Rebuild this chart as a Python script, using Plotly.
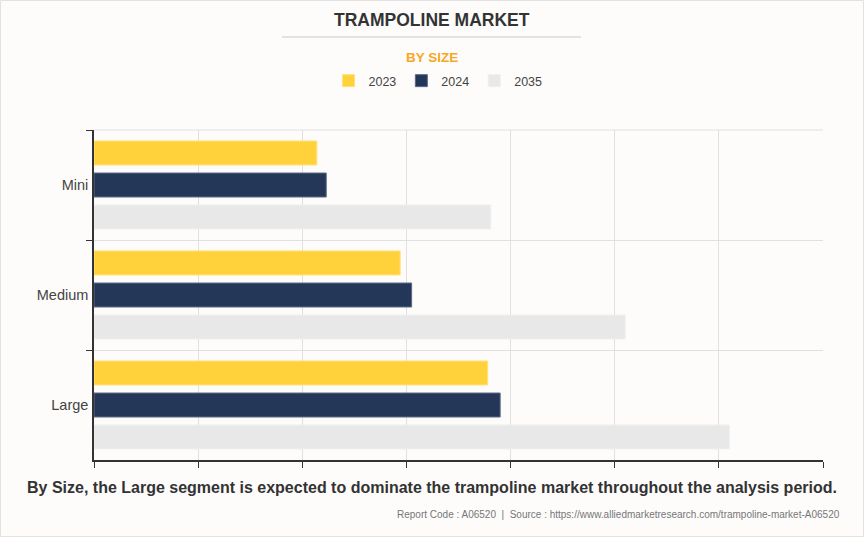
import plotly.graph_objects as go

categories = ["Mini", "Medium", "Large"]
years = ["2023", "2024", "2035"]
values_2023 = [2.14, 2.94, 3.78]
values_2024 = [2.23, 3.05, 3.90]
values_2035 = [3.81, 5.10, 6.10]
colors = ["#FFD23C", "#243758", "#E8E8E8"]
line_colors = ["#FFE27A", "#5C6A85", "#EFEFEF"]

W, H = 864, 537
ml, mr, mt, mb = 94, 41, 130, 77
pw, ph = W - ml - mr, H - mt - mb

def px(x):
    return (x - ml) / pw

def py(y):
    return 1 - (y - mt) / ph

fig = go.Figure()
for name, vals, c, lc in zip(years, [values_2023, values_2024, values_2035], colors, line_colors):
    fig.add_trace(go.Bar(
        y=categories, x=vals, name=name, orientation="h",
        marker=dict(color=c, line=dict(color=lc, width=1)),
        hoverinfo="x+name",
    ))

fig.update_layout(
    width=W, height=H,
    margin=dict(l=ml, r=mr, t=mt, b=mb, autoexpand=False),
    paper_bgcolor="#FDFCFB",
    plot_bgcolor="#FDFCFB",
    barmode="group",
    bargap=0.127,
    bargroupgap=0.25,
    font=dict(family="Liberation Sans, Arial, sans-serif", color="#444444"),
    showlegend=True,
    legend=dict(
        orientation="h", x=px(438), xanchor="center",
        y=py(81), yanchor="middle",
        font=dict(size=12.5, color="#444444"),
        bgcolor="rgba(0,0,0,0)",
        itemwidth=30,
        traceorder="normal",
    ),
    xaxis=dict(
        range=[0, 7], dtick=1, tick0=0,
        showticklabels=False,
        showgrid=True, gridcolor="#E0E0E0", gridwidth=1,
        zeroline=False,
        showline=True, linecolor="#333333", linewidth=1.5,
        ticks="outside", ticklen=6, tickcolor="#333333",
        fixedrange=True,
    ),
    yaxis=dict(
        autorange="reversed",
        showgrid=True, gridcolor="#E0E0E0", gridwidth=1,
        tickson="boundaries",
        showline=True, linecolor="#333333", linewidth=1.5,
        ticks="outside", ticklen=6, tickcolor="#333333",
        tickfont=dict(size=14.5, color="#444444"),
        ticklabelstandoff=1,
        fixedrange=True,
    ),
    shapes=[
        dict(type="rect", xref="paper", yref="paper",
             x0=px(0.5), x1=px(W - 0.5), y0=py(0.5), y1=py(H - 0.5),
             line=dict(color="#E2E2E2", width=1), fillcolor="rgba(0,0,0,0)", layer="below"),
        dict(type="line", xref="paper", yref="paper",
             x0=px(282), x1=px(581), y0=py(37), y1=py(37),
             line=dict(color="#C8C8C8", width=1)),
        dict(type="line", xref="paper", yref="paper",
             x0=0, x1=1, y0=1, y1=1,
             line=dict(color="#E0E0E0", width=1), layer="below"),
    ],
    annotations=[
        dict(text="<b>TRAMPOLINE MARKET</b>", xref="paper", yref="paper",
             x=px(432), y=py(20), xanchor="center", yanchor="middle", showarrow=False,
             font=dict(size=17.5, color="#333333", family="Liberation Sans, Arial, sans-serif")),
        dict(text="<b>BY SIZE</b>", xref="paper", yref="paper",
             x=px(432), y=py(58), xanchor="center", yanchor="middle", showarrow=False,
             font=dict(size=13.5, color="#F7A823")),
        dict(text="<b>By Size, the Large segment is expected to dominate the trampoline market throughout the analysis period.</b>",
             xref="paper", yref="paper",
             x=px(432), y=py(487), xanchor="center", yanchor="middle", showarrow=False,
             font=dict(size=16, color="#333333")),
        dict(text="Report Code : A06520  |  Source : https://www.alliedmarketresearch.com/trampoline-market-A06520",
             xref="paper", yref="paper",
             x=px(842), y=py(514), xanchor="right", yanchor="middle", showarrow=False,
             font=dict(size=10, color="#777777")),
    ],
)

fig.write_html("out.html", config={"displayModeBar": False},
               post_script="document.body.style.margin='0';")
